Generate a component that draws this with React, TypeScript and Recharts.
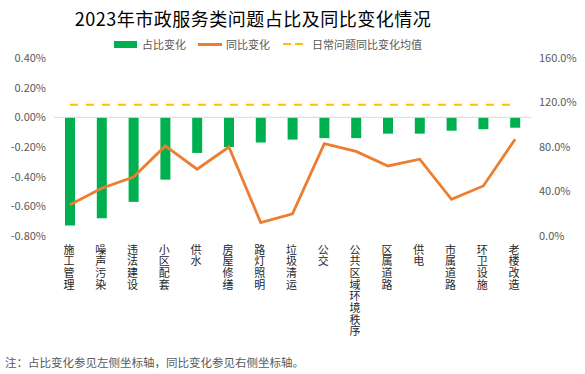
import { ComposedChart, Bar, Line, XAxis, YAxis, ReferenceLine } from 'recharts'

const categories = [
  '施工管理', '噪声污染', '违法建设', '小区配套', '供水', '房屋修缮', '路灯照明', '垃圾清运',
  '公交', '公共区域环境秩序', '区属道路', '供电', '市属道路', '环卫设施', '老楼改造',
]
// 占比变化 (%), left axis
const shareChange = [-0.73, -0.68, -0.57, -0.42, -0.24, -0.2, -0.17, -0.15, -0.14, -0.14, -0.11, -0.11, -0.09, -0.08, -0.07]
// 同比变化 (%), right axis
const yoyChange = [28, 43, 53, 81, 60, 80, 12, 20, 83, 76, 63, 69, 33, 45, 87]
// 日常问题同比变化均值 (%)
const dailyAvg = 118

const leftTicks = [-0.8, -0.6, -0.4, -0.2, 0, 0.2, 0.4]
const rightTicks = [0, 40, 80, 120, 160]

const rows = categories.map((name, i) => ({
  name,
  share: shareChange[i],
  yoy: yoyChange[i],
  avg: dailyAvg,
}))

const FONT = '"Noto Sans CJK SC", "Noto Sans", sans-serif'
const GREY = '#595959'
const axisTick = { fill: GREY, fontSize: 11, fontFamily: FONT }

// one character per line, top to bottom
// eslint-disable-next-line @typescript-eslint/no-explicit-any
function VerticalTick({ x, y, payload }: any) {
  const chars = Array.from(String(payload.value))
  return (
    <text x={x} y={y} textAnchor="middle" fill="#262626" fontSize={11} fontFamily={FONT}>
      {chars.map((c, i) => (
        <tspan key={i} x={x - 1} dy={i === 0 ? 9.5 : 11.7}>
          {c}
        </tspan>
      ))}
    </text>
  )
}

export default function App() {
  return (
    <div style={{ position: 'fixed', left: 0, top: 0, width: 585, height: 374, background: '#fff', fontFamily: FONT }}>
      <div
        style={{
          position: 'absolute',
          left: 0,
          width: 506,
          top: 5,
          textAlign: 'center',
          fontSize: 18,
          color: '#000',
          letterSpacing: 0.5,
        }}
      >
        2023年市政服务类问题占比及同比变化情况
      </div>

      <div style={{ position: 'absolute', top: 36, left: 0, height: 16, fontSize: 11, color: GREY }}>
        <span style={{ position: 'absolute', left: 114, top: 5, width: 23, height: 7, background: '#00B050' }} />
        <span style={{ position: 'absolute', left: 142, top: 0, whiteSpace: 'nowrap' }}>占比变化</span>
        <span style={{ position: 'absolute', left: 198, top: 7, width: 24, height: 3, background: '#ED7D31' }} />
        <span style={{ position: 'absolute', left: 226, top: 0, whiteSpace: 'nowrap' }}>同比变化</span>
        <span style={{ position: 'absolute', left: 283, top: 7, width: 8, height: 2, background: '#FFC000' }} />
        <span style={{ position: 'absolute', left: 295, top: 7, width: 8, height: 2, background: '#FFC000' }} />
        <span style={{ position: 'absolute', left: 312, top: 0, whiteSpace: 'nowrap' }}>日常问题同比变化均值</span>
      </div>

      <div style={{ position: 'absolute', left: 0, top: 0 }}>
        <ComposedChart width={585} height={374} data={rows} margin={{ top: 58, right: 0, bottom: 0, left: 0 }}>
          <XAxis
            dataKey="name"
            interval={0}
            axisLine={false}
            tickLine={false}
            height={138}
            tick={<VerticalTick />}
          />
          <YAxis
            yAxisId="left"
            domain={[-0.8, 0.4]}
            ticks={leftTicks}
            width={54}
            axisLine={false}
            tickLine={false}
            tick={axisTick}
            tickFormatter={(v: number) => v.toFixed(2) + '%'}
          />
          <YAxis
            yAxisId="right"
            orientation="right"
            domain={[0, 160]}
            ticks={rightTicks}
            width={54}
            axisLine={false}
            tickLine={false}
            tick={{ ...axisTick, textAnchor: 'start' }}
            tickFormatter={(v: number) => v.toFixed(1) + '%'}
          />
          <ReferenceLine yAxisId="left" y={0} stroke="#D9D9D9" strokeWidth={1} />
          <Bar yAxisId="left" dataKey="share" fill="#00B050" barSize={10} isAnimationActive={false} />
          <Line
            yAxisId="right"
            dataKey="yoy"
            stroke="#ED7D31"
            strokeWidth={2.8}
            dot={false}
            type="linear"
            isAnimationActive={false}
          />
          <Line
            yAxisId="right"
            dataKey="avg"
            stroke="#FFC000"
            strokeWidth={2}
            strokeDasharray="8 8"
            dot={false}
            type="linear"
            isAnimationActive={false}
          />
        </ComposedChart>
      </div>

      <div style={{ position: 'absolute', left: 5, top: 354, fontSize: 11.5, color: GREY, whiteSpace: 'nowrap' }}>
        注：占比变化参见左侧坐标轴，同比变化参见右侧坐标轴。
      </div>
    </div>
  )
}
